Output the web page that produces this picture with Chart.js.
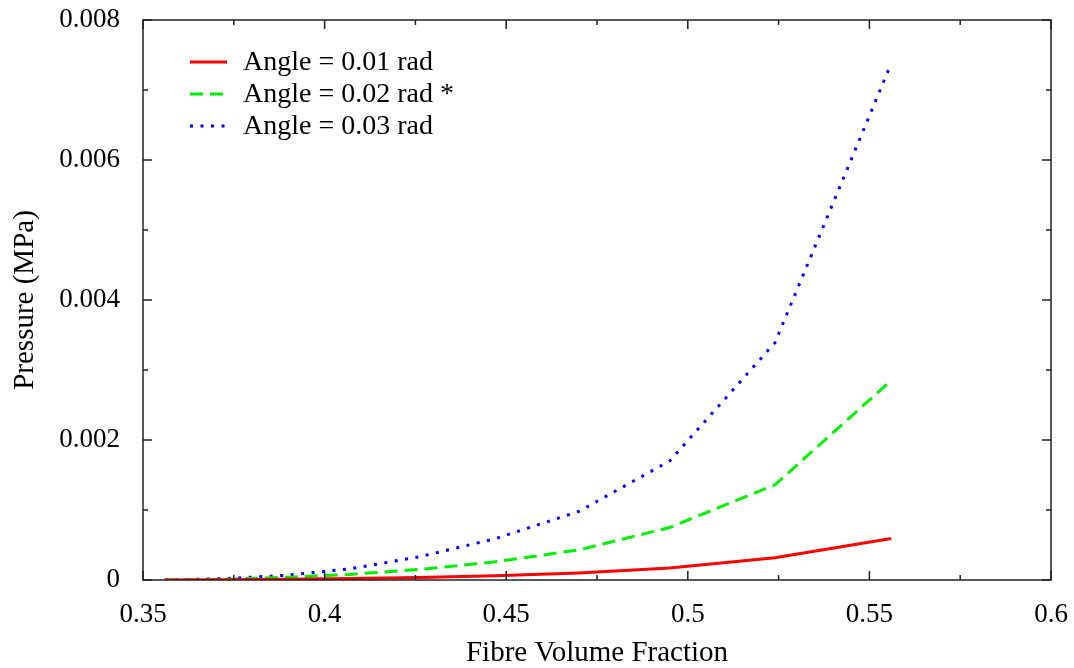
<!DOCTYPE html>
<html>
<head>
<meta charset="utf-8">
<script src="https://cdn.jsdelivr.net/npm/chart.js@4.4.0/dist/chart.umd.min.js"></script>
<style>
  body { margin: 0; background: #fff; }
</style>
</head>
<body>
<canvas id="pressure-chart" width="1074" height="668"></canvas>
<script>
const fibreFraction = [0.356, 0.373, 0.39, 0.407, 0.426, 0.447, 0.47, 0.495, 0.524, 0.556];
const angle001 = [0, 0.000004, 0.00001, 0.00002, 0.000035, 0.00006, 0.0001, 0.00017, 0.000317, 0.000593];
const angle002 = [0, 0.00001, 0.00004, 0.00008, 0.00015, 0.00026, 0.00043, 0.00075, 0.00136, 0.00285];
const angle003 = [0, 0.00002, 0.00007, 0.00016, 0.00033, 0.00059, 0.00098, 0.0017, 0.00339, 0.00738];
const seriesLabels = ['Angle = 0.01 rad', 'Angle = 0.02 rad *', 'Angle = 0.03 rad'];

const serif = '"Liberation Serif", "DejaVu Serif", serif';

function toPoints(values) {
  return fibreFraction.map((x, i) => ({ x: x, y: values[i] }));
}

// frame with inward ticks on all four sides, like gnuplot
const frameTicks = {
  id: 'frameTicks',
  afterDatasetsDraw(chart) {
    const ctx = chart.ctx;
    const a = chart.chartArea;
    const xs = chart.scales.x;
    const ys = chart.scales.y;
    ctx.save();
    ctx.strokeStyle = '#222';
    ctx.lineWidth = 1.5;
    ctx.strokeRect(a.left, a.top, a.right - a.left, a.bottom - a.top);

    const xt = xs.ticks.map(t => t.value);
    const yt = ys.ticks.map(t => t.value);
    ctx.beginPath();
    xt.forEach((v, i) => {
      const px = xs.getPixelForValue(v);
      ctx.moveTo(px, a.bottom); ctx.lineTo(px, a.bottom - 9);
      ctx.moveTo(px, a.top); ctx.lineTo(px, a.top + 9);
      if (i < xt.length - 1) {
        const mx = xs.getPixelForValue((v + xt[i + 1]) / 2);
        ctx.moveTo(mx, a.bottom); ctx.lineTo(mx, a.bottom - 5);
        ctx.moveTo(mx, a.top); ctx.lineTo(mx, a.top + 5);
      }
    });
    yt.forEach((v, i) => {
      const py = ys.getPixelForValue(v);
      ctx.moveTo(a.left, py); ctx.lineTo(a.left + 9, py);
      ctx.moveTo(a.right, py); ctx.lineTo(a.right - 9, py);
      if (i < yt.length - 1) {
        const my = ys.getPixelForValue((v + yt[i + 1]) / 2);
        ctx.moveTo(a.left, my); ctx.lineTo(a.left + 5, my);
        ctx.moveTo(a.right, my); ctx.lineTo(a.right - 5, my);
      }
    });
    ctx.stroke();
    ctx.restore();
  }
};

// legend inside the plot, top left
const insideLegend = {
  id: 'insideLegend',
  afterDatasetsDraw(chart) {
    const ctx = chart.ctx;
    ctx.save();
    ctx.font = '28px ' + serif;
    ctx.textBaseline = 'middle';
    ctx.fillStyle = '#000';
    chart.data.datasets.forEach((ds, i) => {
      const y = 62 + i * 32;
      ctx.beginPath();
      ctx.strokeStyle = ds.borderColor;
      ctx.lineWidth = ds.borderWidth;
      ctx.setLineDash(ds.borderDash || []);
      ctx.moveTo(190, y);
      ctx.lineTo(227, y);
      ctx.stroke();
      ctx.setLineDash([]);
      ctx.fillText(ds.label, 243, y + 1);
    });
    ctx.restore();
  }
};

const pressureChart = new Chart(document.getElementById('pressure-chart'), {
  type: 'line',
  data: {
    datasets: [
      {
        label: seriesLabels[0],
        data: toPoints(angle001),
        borderColor: '#ff0000',
        borderWidth: 3,
      },
      {
        label: seriesLabels[1],
        data: toPoints(angle002),
        borderColor: '#00ee00',
        borderWidth: 3,
        borderDash: [13, 7],
      },
      {
        label: seriesLabels[2],
        data: toPoints(angle003),
        borderColor: '#0000ff',
        borderWidth: 3,
        borderDash: [3, 7.5],
      },
    ],
  },
  options: {
    responsive: false,
    devicePixelRatio: 1,
    animation: false,
    layout: { padding: { top: 20, right: 23, left: 0, bottom: 0 } },
    elements: { point: { radius: 0 }, line: { tension: 0 } },
    plugins: {
      legend: { display: false },
      tooltip: { enabled: false },
    },
    scales: {
      x: {
        type: 'linear',
        min: 0.35,
        max: 0.6,
        border: { display: false },
        grid: { display: false, drawTicks: false },
        ticks: {
          stepSize: 0.05,
          padding: 19,
          color: '#000',
          font: { family: serif, size: 27 },
          callback: v => String(+v.toFixed(3)),
        },
        title: {
          display: true,
          text: 'Fibre Volume Fraction',
          color: '#000',
          font: { family: serif, size: 29, lineHeight: 1 },
          padding: { top: 0, bottom: 0 },
        },
        afterFit: scale => {
          scale.height = 88;
          scale.paddingLeft = 0;
          scale.paddingRight = 0;
        },
      },
      y: {
        min: 0,
        max: 0.008,
        border: { display: false },
        grid: { display: false, drawTicks: false },
        ticks: {
          stepSize: 0.002,
          padding: 23,
          color: '#000',
          font: { family: serif, size: 27 },
          callback: v => String(+v.toFixed(4)),
        },
        title: {
          display: true,
          text: 'Pressure (MPa)',
          color: '#000',
          font: { family: serif, size: 29 },
          padding: { top: 8, bottom: 0 },
        },
        afterFit: scale => {
          scale.width = 143;
          scale.paddingTop = 0;
          scale.paddingBottom = 0;
        },
      },
    },
  },
  plugins: [frameTicks, insideLegend],
});
</script>
</body>
</html>
